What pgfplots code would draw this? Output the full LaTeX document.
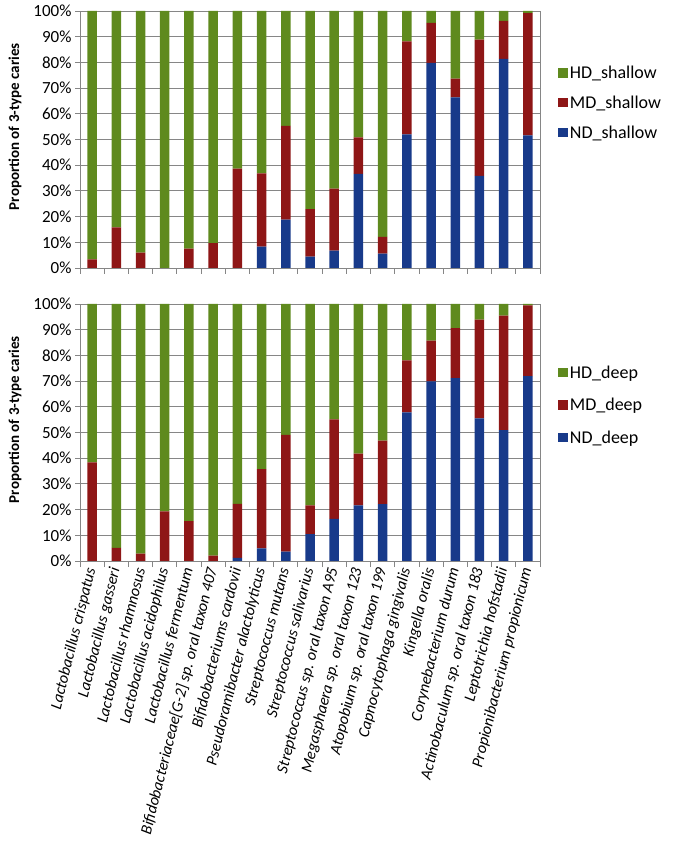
\documentclass[border=0pt]{standalone}
\usepackage{fontspec}
\setmainfont{Carlito}
\usepackage{pgfplots}
\usepackage{pgfplotstable}
\pgfplotsset{compat=1.18}
\definecolor{hd}{RGB}{95,138,30}
\definecolor{md}{RGB}{142,22,22}
\definecolor{nd}{RGB}{24,58,138}
\definecolor{gridc}{RGB}{134,134,134}

\pgfplotstableread{
x ND MD HD
0 0 3.4 96.6
1 0 15.8 84.2
2 0 6.0 94.0
3 0 0 100
4 0 7.5 92.5
5 0 9.7 90.3
6 0 38.7 61.3
7 8.3 28.5 63.2
8 18.8 36.5 44.7
9 4.4 18.5 77.1
10 6.8 24.1 69.1
11 36.6 14.2 49.2
12 5.6 6.5 87.9
13 52.0 36.2 11.8
14 79.8 15.6 4.6
15 66.4 7.3 26.3
16 35.8 53.1 11.1
17 81.4 14.8 3.8
18 51.6 47.6 0.8
}\shallow

\pgfplotstableread{
x ND MD HD
0 0 38.4 61.6
1 0 5.1 94.9
2 0 2.9 97.1
3 0 19.3 80.7
4 0 15.5 84.5
5 0 2.1 97.9
6 1.2 21.0 77.8
7 4.9 30.8 64.3
8 3.6 45.5 50.9
9 10.5 11.1 78.4
10 16.4 38.7 44.9
11 21.6 20.2 58.2
12 22.1 24.7 53.2
13 57.8 20.3 21.9
14 69.9 15.8 14.3
15 71.2 19.4 9.4
16 55.5 38.4 6.1
17 50.9 44.6 4.5
18 71.9 27.6 0.5
}\deep

\pgfplotsset{
 myax/.style={
  scale only axis, width=460pt, height=257pt,
  ybar stacked, bar width=9.5pt,
  xmin=-0.5, xmax=18.5, ymin=0, ymax=100,
  ytick={0,10,...,100},
  yticklabels={0\%,10\%,20\%,30\%,40\%,50\%,60\%,70\%,80\%,90\%,100\%},
  xtick={0,...,18},
  minor xtick={-0.5,0.5,...,18.5},
  tick align=outside, major tick length=5pt, minor tick length=6pt,
  xtick pos=bottom, ytick pos=left,
  major x tick style={draw=none},
  tick style={gridc, line width=0.8pt},
  axis line style={gridc, line width=0.8pt},
  ymajorgrids, grid style={gridc, line width=0.8pt},
  yticklabel style={font=\fontsize{17}{20}\selectfont},
  ylabel={\bfseries Proportion of 3-type caries},
  ylabel style={font=\fontsize{15}{18}\selectfont, at={(axis description cs:-0.141,0.55)}, anchor=center},
  reverse legend,
  legend style={draw=none, fill=none, font=\fontsize{18}{21}\selectfont, anchor=north west, cells={anchor=west}},
 }
}

\begin{document}
\begin{tikzpicture}[x=1pt,y=1pt]
\useasboundingbox (0,0) rectangle (672,848);

\begin{axis}[myax, at={(80pt,580pt)}, anchor=south west,
  xticklabels={},
  legend image code/.code={\fill[#1] (0pt,-4.5pt) rectangle (9.5pt,5pt);},
  legend style={at={(rel axis cs:1.033,0.802)}, row sep=11.8pt}]
\addplot[fill=nd, draw=none] table[x=x, y=ND] {\shallow};
\addplot[fill=md, draw=none] table[x=x, y=MD] {\shallow};
\addplot[fill=hd, draw=none] table[x=x, y=HD] {\shallow};
\legend{ND\_shallow, MD\_shallow, HD\_shallow}
\end{axis}

\begin{axis}[myax, at={(80pt,287pt)}, anchor=south west,
  xticklabels={Lactobacillus crispatus, Lactobacillus gasseri, Lactobacillus rhamnosus, Lactobacillus acidophilus, Lactobacillus fermentum, Bifidobacteriaceae{[}G-2{]} sp. oral taxon 407, Bifidobacteriums cardovii, Pseudoramibacter alactolyticus, Streptococcus mutans, Streptococcus salivarius, Streptococcus sp. oral taxon A95, Megasphaera sp. oral taxon 123, Atopobium sp. oral taxon 199, Capnocytophaga gingivalis, Kingella oralis, Corynebacterium durum, Actinobaculum sp. oral taxon 183, Leptotrichia hofstadii, Propionibacterium propionicum},
  xticklabel style={rotate=76, anchor=east, font=\itshape\fontsize{16}{18}\selectfont, inner sep=2pt},
  legend image code/.code={\fill[#1] (0pt,-4.5pt) rectangle (9.5pt,5pt);},
  legend style={at={(rel axis cs:1.033,0.776)}, row sep=14.4pt}]
\addplot[fill=nd, draw=none] table[x=x, y=ND] {\deep};
\addplot[fill=md, draw=none] table[x=x, y=MD] {\deep};
\addplot[fill=hd, draw=none] table[x=x, y=HD] {\deep};
\legend{ND\_deep, MD\_deep, HD\_deep}
\end{axis}
\end{tikzpicture}
\end{document}
